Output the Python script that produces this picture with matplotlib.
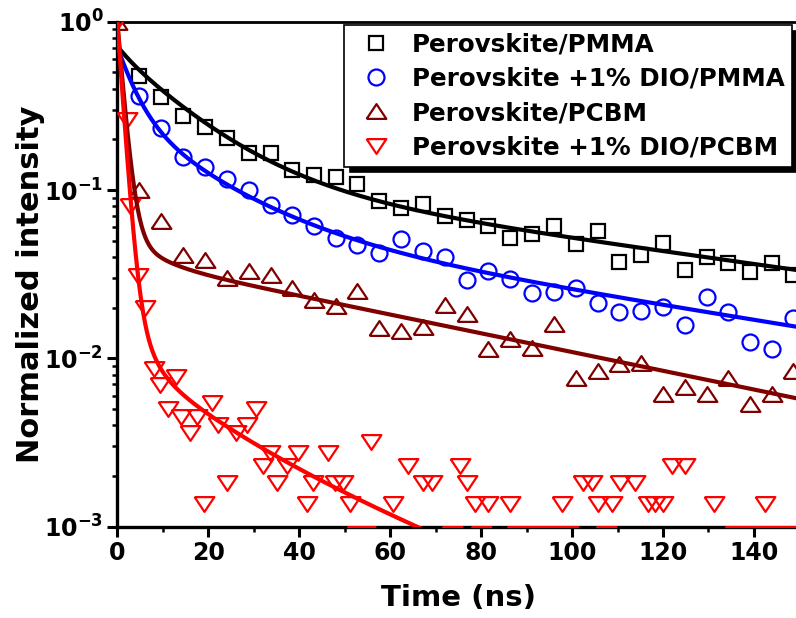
import numpy as np
import matplotlib
matplotlib.use('Agg')
import matplotlib.pyplot as plt
from matplotlib.ticker import MultipleLocator, FixedLocator, FixedFormatter, LogLocator, NullFormatter

plt.rcParams['font.family'] = ['DejaVu Sans']
plt.rcParams['font.weight'] = 'bold'

# time grid of the PMMA / PCBM decays (ns)
t_grid = [4.8, 9.6, 14.4, 19.2, 24.1, 29.0, 33.7, 38.4, 43.3, 48.0, 52.8, 57.6, 62.4,
          67.2, 72.1, 76.8, 81.6, 86.4, 91.1, 96.0, 100.8, 105.7, 110.4, 115.1, 120.0,
          124.9, 129.6, 134.4, 139.2, 143.9, 148.5]

pmma = [0.476, 0.358, 0.276, 0.238, 0.203, 0.167, 0.165, 0.132, 0.123, 0.120, 0.108,
        0.086, 0.078, 0.083, 0.070, 0.066, 0.061, 0.052, 0.055, 0.061, 0.048, 0.057,
        0.0375, 0.041, 0.0486, 0.0335, 0.040, 0.037, 0.0327, 0.037, 0.0313]

dio_pmma = [0.362, 0.235, 0.158, 0.1375, 0.116, 0.100, 0.081, 0.071, 0.0614, 0.0516,
            0.0471, 0.0421, 0.0509, 0.0437, 0.0402, 0.0292, 0.0330, 0.0296, 0.0243,
            0.0249, 0.0263, 0.0212, 0.0189, 0.0191, 0.0201, 0.0158, 0.0232, 0.0189,
            0.01255, 0.0113, 0.0173]

pcbm_t = [0.0] + t_grid
pcbm = [1.0, 0.100, 0.0657, 0.0411, 0.0384, 0.0299, 0.033, 0.0313, 0.0262, 0.0221,
        0.0206, 0.0252, 0.0152, 0.0146, 0.0153, 0.0207, 0.0184, 0.0114, 0.0131, 0.0115,
        0.0161, 0.0076, 0.00837, 0.00923, 0.00934, 0.00612, 0.00678, 0.00612, 0.00766,
        0.00533, 0.00612, 0.00843]

dio_pcbm_t = [0.0, 2.1, 2.8, 4.6, 6.2, 8.1, 9.4, 11.2, 12.8, 14.0, 16.0, 17.6, 19.1, 20.8,
              22.2, 24.1, 26.1, 28.5, 30.4, 32.1, 33.6, 35.1, 37.3, 39.8, 41.7, 43.1, 46.4,
              47.9, 49.7, 51.2, 52.7, 54.5, 55.9, 60.7, 64.0, 67.3, 69.1, 73.6, 75.4, 76.8,
              78.7, 80.0, 81.6, 86.4, 87.9, 90.8, 93.6, 96.5, 97.7, 99.1, 102.5, 104.3,
              105.8, 107.5, 108.7, 110.6, 113.9, 116.8, 118.3, 120.1, 121.9, 124.9, 131.2,
              135.8, 138.7, 141.5, 142.4, 144.4, 147.3]
dio_pcbm = [1.0, 0.26, 0.080, 0.031, 0.020, 0.0086, 0.0069, 0.0050, 0.0078, 0.0045, 0.0036,
            0.0045, 0.00137, 0.0054, 0.0040, 0.00182, 0.0036, 0.0040, 0.0050, 0.00228,
            0.00273, 0.00182, 0.00228, 0.00273, 0.00137, 0.00182, 0.00273, 0.00182,
            0.00182, 0.00137, 0.00091, 0.00091, 0.00319, 0.00137, 0.00228, 0.00182,
            0.00182, 0.00091, 0.00228, 0.00182, 0.00137, 0.00091, 0.00137, 0.00137,
            0.00091, 0.00091, 0.00091, 0.00091, 0.00137, 0.00091, 0.00182, 0.00182,
            0.00137, 0.00091, 0.00137, 0.00182, 0.00182, 0.00137, 0.00137, 0.00137,
            0.00228, 0.00228, 0.00137, 0.00091, 0.00091, 0.00091, 0.00137, 0.00091, 0.00091]

# multi-exponential fit parameters (amplitudes, lifetimes in ns)
fit_pmma_a, fit_pmma_tau = [0.06, 0.534, 0.1227], [3.0, 15.0, 115.0]
fit_dio_pmma_a, fit_dio_pmma_tau = [0.42, 0.2207, 0.0685], [3.8, 17.0, 100.0]
fit_pcbm_a, fit_pcbm_tau = [0.94, 0.022, 0.0393], [1.3, 6.0, 78.0]
fit_dio_pcbm_a, fit_dio_pcbm_tau = [0.96, 0.03, 0.0067, 0.0048], [1.1, 3.0, 14.7, 40.0]

labels = ['Perovskite/PMMA', 'Perovskite +1% DIO/PMMA',
          'Perovskite/PCBM', 'Perovskite +1% DIO/PCBM']
colors = ['black', '#0000ff', '#800000', '#ff0000']


def decay(t, amps, taus):
    y = np.zeros_like(t)
    for a, tau in zip(amps, taus):
        y += a * np.exp(-t / tau)
    return y


# wide, flat triangles like the original software draws
tri_up = [(-1, -0.75), (1, -0.75), (0, 0.75), (-1, -0.75)]
tri_dn = [(-1, 0.75), (1, 0.75), (0, -0.75), (-1, 0.75)]

fig = plt.figure(figsize=(7.96, 6.18), dpi=100)
ax = fig.add_axes([117.3 / 796, 91.3 / 618, 682.1 / 796, 505.0 / 618])

mk = dict(ls='none', mfc='none', mew=1.6, zorder=3)
ax.plot(t_grid, pmma, marker='s', ms=9.8, mec=colors[0], label=labels[0], **mk)
ax.plot(t_grid, dio_pmma, marker='o', ms=11.5, mec=colors[1], label=labels[1], **mk)
ax.plot(pcbm_t, pcbm, marker=tri_up, ms=14.2, mec=colors[2], label=labels[2], **mk)
ax.plot(dio_pcbm_t, dio_pcbm, marker=tri_dn, ms=14.2, mec=colors[3], label=labels[3], **mk)

tt = np.linspace(0, 150, 1500)
ax.plot(tt, decay(tt, fit_pmma_a, fit_pmma_tau), color=colors[0], lw=3, zorder=4)
ax.plot(tt, decay(tt, fit_dio_pmma_a, fit_dio_pmma_tau), color=colors[1], lw=3, zorder=4)
ax.plot(tt, decay(tt, fit_pcbm_a, fit_pcbm_tau), color=colors[2], lw=3, zorder=4)
ax.plot(tt, decay(tt, fit_dio_pcbm_a, fit_dio_pcbm_tau), color=colors[3], lw=3, zorder=4)

ax.set_yscale('log')
ax.set_xlim(0, 150)
ax.set_ylim(1e-3, 1)

ax.xaxis.set_major_locator(FixedLocator([0, 20, 40, 60, 80, 100, 120, 140]))
ax.xaxis.set_minor_locator(MultipleLocator(10))
ax.yaxis.set_major_locator(FixedLocator([1e-3, 1e-2, 1e-1, 1]))
ax.yaxis.set_major_formatter(FixedFormatter([r'$\mathbf{10^{-3}}$', r'$\mathbf{10^{-2}}$',
                                             r'$\mathbf{10^{-1}}$', r'$\mathbf{10^{0}}$']))
ax.yaxis.set_minor_locator(LogLocator(base=10, subs=np.arange(2, 10)))
ax.yaxis.set_minor_formatter(NullFormatter())

ax.tick_params(which='major', direction='out', length=7, width=2.2, labelsize=17, pad=3)
ax.tick_params(which='minor', direction='out', length=3.5, width=1.8)
for s in ['left', 'bottom']:
    ax.spines[s].set_linewidth(2.4)
ax.spines['top'].set_linewidth(2)

ax.set_xlabel('Time (ns)', fontsize=21, fontweight='bold')
ax.set_ylabel('Normalized intensity', fontsize=22, fontweight='bold')
ax.xaxis.set_label_coords(0.5, -0.114)
ax.yaxis.set_label_coords(-0.106, 0.48)

leg = ax.legend(loc='upper right', bbox_to_anchor=(791.7 / 796, 1 - 25 / 618),
                bbox_transform=fig.transFigure, borderaxespad=0, fontsize=17.7,
                frameon=True, fancybox=False, framealpha=1, edgecolor='black',
                borderpad=0.3, labelspacing=0.42, handlelength=2.0, handletextpad=0.45,
                shadow={'ox': 4, 'oy': -4, 'facecolor': 'black', 'edgecolor': 'black',
                        'alpha': 1})
leg.get_frame().set_linewidth(1.2)
leg.set_zorder(6)

fig.savefig('out.png', dpi=100)
